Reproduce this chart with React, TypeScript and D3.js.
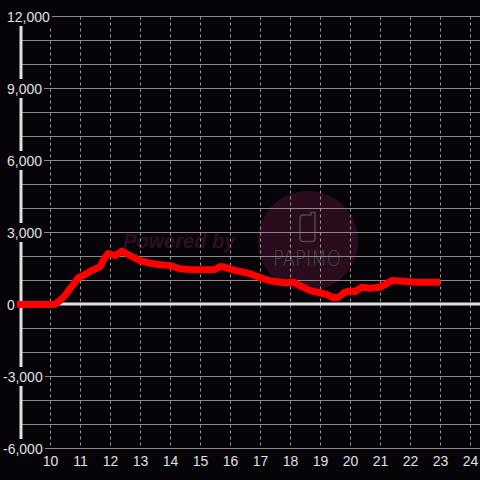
import React from "react";
import * as d3 from "d3";

const hours = [8.88, 10.15, 10.32, 10.49, 10.66, 10.82, 10.93, 11.16, 11.32, 11.66, 11.82, 11.92, 12.16, 12.38, 12.66, 12.99, 13.32, 13.59, 13.99, 14.32, 14.66, 15.32, 15.49, 15.66, 15.82, 16.16, 16.66, 16.99, 17.32, 17.66, 17.82, 18.1, 18.32, 18.66, 18.99, 19.21, 19.43, 19.6, 19.82, 19.99, 20.16, 20.38, 20.66, 20.99, 21.16, 21.38, 21.77, 22.21, 23];
const values = [0, 0, 170, 375, 670, 920, 1120, 1250, 1380, 1580, 1970, 2120, 2040, 2220, 2040, 1830, 1720, 1670, 1620, 1490, 1460, 1450, 1460, 1580, 1550, 1420, 1280, 1120, 990, 930, 905, 930, 790, 580, 490, 420, 280, 300, 510, 560, 540, 720, 680, 720, 830, 1000, 970, 930, 930];
const xTicks = [10, 11, 12, 13, 14, 15, 16, 17, 18, 19, 20, 21, 22, 23, 24];
const yLabelTicks = [-6000, -3000, 0, 3000, 6000, 9000, 12000];
const yGridTicks = d3.range(-6000, 12001, 1000);

const W = 480;
const H = 480;
const FONT = "'Liberation Sans', Arial, sans-serif";

function textWidth(s: string) {
  let w = 0;
  for (const c of s) {
    if (c === ",") w += 3.9;
    else if (c === "-") w += 4.7;
    else w += 7.8;
  }
  return w;
}

export default function App() {
  const x = d3.scaleLinear().domain([9, 24]).range([20.5, 470.5]);
  const y = d3.scaleLinear().domain([-6000, 12000]).range([448.5, 16.5]);
  const fmt = d3.format(",");
  const line = d3
    .line<number>()
    .x((_, i) => x(hours[i]))
    .y((d) => y(d))
    .curve(d3.curveLinear);

  return (
    <svg
      width={W}
      height={H}
      style={{ position: "fixed", left: 0, top: 0, display: "block" }}
    >
      <rect x={0} y={0} width={W} height={H} fill="#060409" />
      {/* watermark */}
      <circle cx={308} cy={241} r={50} fill="#2a0c1e" />
      <text
        x={123}
        y={248}
        fontFamily={FONT}
        fontSize={20}
        fontWeight="bold"
        fontStyle="italic"
        fill="#2e0e20"
      >
        Powered by
      </text>
      <path
        d="M300,218 Q300,215 303,215 L311,215 L311,212.5 L315,212.5 L315,238.5 Q315,241.5 312,241.5 L303,241.5 Q300,241.5 300,238.5 Z"
        fill="none"
        stroke="#4a4a4a"
        strokeWidth={1.5}
      />
      <text
        x={273}
        y={266}
        fontFamily="'DejaVu Sans', sans-serif"
        fontSize={21}
        fontWeight={300}
        fill="#474747"
        textLength={68}
        lengthAdjust="spacingAndGlyphs"
      >
        PAPIMO
      </text>
      {/* horizontal grid */}
      {yGridTicks.map((t) => (
        <line
          key={"h" + t}
          x1={22}
          x2={W}
          y1={y(t)}
          y2={y(t)}
          stroke="#8a8a8a"
          strokeWidth={1}
        />
      ))}
      {/* vertical dashed grid */}
      {xTicks.map((t) => (
        <line
          key={"v" + t}
          x1={x(t)}
          x2={x(t)}
          y1={y(12000)}
          y2={y(-6000)}
          stroke="#9a9a9a"
          strokeWidth={1}
          strokeDasharray="3,3"
        />
      ))}
      {/* zero line */}
      <line x1={22} x2={W} y1={y(0) - 0.5} y2={y(0) - 0.5} stroke="#e0e0e0" strokeWidth={3} />
      {/* y axis */}
      <line x1={21} x2={21} y1={y(12000)} y2={y(-6000)} stroke="#e0e0e0" strokeWidth={3} />
      {/* data line */}
      <path
        d={line(values) || ""}
        fill="none"
        stroke="#ff0000"
        strokeWidth={7}
        strokeLinejoin="round"
        strokeLinecap="butt"
      />
      {/* y labels */}
      {yLabelTicks.map((t) => {
        const s = fmt(t).replace("\u2212", "-");
        const lx = t < 0 ? 3 : 7;
        const w = textWidth(s);
        return (
          <g key={"yl" + t}>
            <rect x={lx - 1} y={y(t) - 9.5} width={w + 3} height={19} fill="#060409" />
            <text
              x={lx}
              y={y(t) + 5}
              fontFamily={FONT}
              fontSize={14}
              fill="#e0e0e0"
            >
              {s}
            </text>
          </g>
        );
      })}
      {/* x labels */}
      {xTicks.map((t) => (
        <text
          key={"xl" + t}
          x={x(t)}
          y={466}
          textAnchor="middle"
          fontFamily={FONT}
          fontSize={14}
          fill="#e0e0e0"
        >
          {t}
        </text>
      ))}
    </svg>
  );
}
